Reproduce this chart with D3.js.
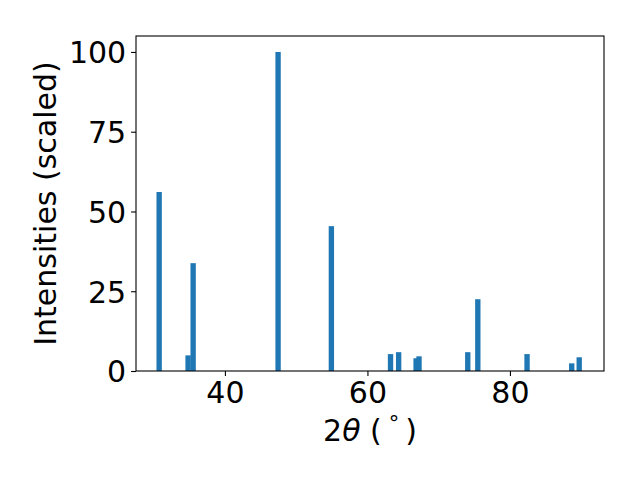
<!DOCTYPE html>
<html>
<head>
<meta charset="utf-8">
<script src="https://cdn.jsdelivr.net/npm/d3@7"></script>
<style>
  html, body { margin: 0; padding: 0; background: #fff; }
  svg { display: block; }
  text { font-family: "DejaVu Sans", sans-serif; fill: #000; }
</style>
</head>
<body>
<svg id="chart" width="640" height="480"></svg>
<script>
// Data
const twoTheta = [30.77, 34.83, 35.54, 47.46, 54.94, 63.24, 64.38, 66.83, 67.24, 74.08, 75.49, 82.40, 88.67, 89.72];
const intensity = [56.1, 4.9, 33.8, 100, 45.4, 5.3, 5.9, 4.0, 4.6, 5.9, 22.5, 5.3, 2.4, 4.3];
const xTicks = [40, 60, 80];
const yTicks = [0, 25, 50, 75, 100];
const xDomain = [27.52, 93.2];
const yDomain = [0, 105];
const barWidth = 0.75;

const margin = { left: 136, right: 36, top: 36, bottom: 109 };
const W = 640, H = 480;
const iw = W - margin.left - margin.right;
const ih = H - margin.top - margin.bottom;
const FS = 30;

const svg = d3.select("#chart");
const g = svg.append("g").attr("transform", `translate(${margin.left},${margin.top})`);

const x = d3.scaleLinear().domain(xDomain).range([0, iw]);
const y = d3.scaleLinear().domain(yDomain).range([ih, 0]);

const data = twoTheta.map((t, i) => ({ t, v: intensity[i] }));

g.selectAll("rect.bar").data(data).enter().append("rect")
  .attr("class", "bar")
  .attr("x", d => x(d.t - barWidth / 2))
  .attr("width", d => x(d.t + barWidth / 2) - x(d.t - barWidth / 2))
  .attr("y", d => y(d.v))
  .attr("height", d => y(0) - y(d.v))
  .attr("fill", "#1f77b4");

// Axes
const xAxis = d3.axisBottom(x).tickValues(xTicks).tickSize(4.9).tickPadding(4.9);
const yAxis = d3.axisLeft(y).tickValues(yTicks).tickSize(4.9).tickPadding(4.9);

const gx = g.append("g").attr("transform", `translate(0,${ih})`).call(xAxis);
const gy = g.append("g").call(yAxis);

[gx, gy].forEach(a => {
  a.select(".domain").remove();
  a.selectAll(".tick line").attr("stroke", "#000").attr("stroke-width", 1.1);
  a.selectAll(".tick text").attr("font-size", FS + "px").attr("font-family", "DejaVu Sans").attr("fill", "#000");
});
gx.selectAll(".tick text").attr("dy", "0.74em");
gy.selectAll(".tick text").attr("dy", "0.36em");

// Frame (spines)
g.append("rect")
  .attr("x", 0).attr("y", 0).attr("width", iw).attr("height", ih)
  .attr("fill", "none").attr("stroke", "#000").attr("stroke-width", 1.1);

// X label
const xl = svg.append("text")
  .attr("x", margin.left + iw / 2).attr("y", 441)
  .attr("text-anchor", "middle").attr("font-size", FS + "px");
xl.append("tspan").text("2");
xl.append("tspan").attr("font-style", "italic").text("θ");
xl.append("tspan").text(" (");
xl.append("tspan").attr("font-size", "21px").attr("dx", "7").attr("dy", "-10").text("°");
xl.append("tspan").attr("dx", "6").attr("dy", "10").text(")");

// Y label
svg.append("text")
  .attr("transform", `translate(56,${margin.top + ih / 2}) rotate(-90)`)
  .attr("text-anchor", "middle").attr("font-size", FS + "px")
  .text("Intensities (scaled)");
</script>
</body>
</html>
